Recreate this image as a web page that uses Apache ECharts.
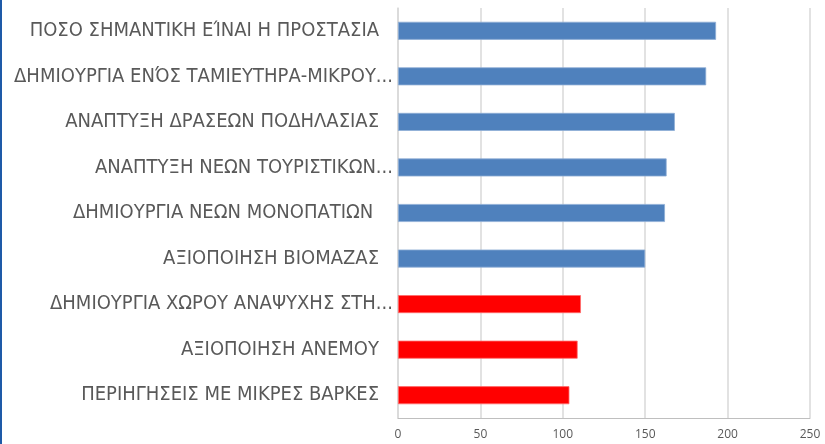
<!DOCTYPE html>
<html>
<head>
<meta charset="utf-8">
<script src="https://cdn.jsdelivr.net/npm/echarts@6/dist/echarts.min.js"></script>
<style>
  html, body { margin: 0; padding: 0; background: #ffffff; }
  #chart { width: 825px; height: 444px; }
</style>
</head>
<body>
<div id="chart"></div>
<script>
// Categories, top to bottom
const categories = [
  'ΠΟΣΟ ΣΗΜΑΝΤΙΚΗ ΕΊΝΑΙ Η ΠΡΟΣΤΑΣΙΑ',
  'ΔΗΜΙΟΥΡΓΙΑ ΕΝΌΣ ΤΑΜΙΕΥΤΗΡΑ-ΜΙΚΡΟΥ...',
  'ΑΝΑΠΤΥΞΗ ΔΡΑΣΕΩΝ ΠΟΔΗΛΑΣΙΑΣ',
  'ΑΝΑΠΤΥΞΗ ΝΕΩΝ ΤΟΥΡΙΣΤΙΚΩΝ...',
  'ΔΗΜΙΟΥΡΓΙΑ ΝΕΩΝ ΜΟΝΟΠΑΤΙΩΝ ',
  'ΑΞΙΟΠΟΙΗΣΗ ΒΙΟΜΑΖΑΣ',
  'ΔΗΜΙΟΥΡΓΙΑ ΧΩΡΟΥ ΑΝΑΨΥΧΗΣ ΣΤΗ...',
  'ΑΞΙΟΠΟΙΗΣΗ ΑΝΕΜΟΥ',
  'ΠΕΡΙΗΓΗΣΕΙΣ ΜΕ ΜΙΚΡΕΣ ΒΑΡΚΕΣ'
];
const values = [193, 187, 168, 163, 162, 150, 111, 109, 104];
// Lowest three options are highlighted
const highlighted = [false, false, false, false, false, false, true, true, true];
const xTicks = [0, 50, 100, 150, 200, 250];

const BLUE = '#4F81BD';
const RED = '#FF0000';
const LABEL_FONT = 'DejaVu Sans Condensed, Liberation Sans Narrow, sans-serif';

const chart = echarts.init(document.getElementById('chart'), null, { renderer: 'canvas' });

chart.setOption({
  animation: false,
  backgroundColor: '#ffffff',
  grid: { left: 398, right: 15, top: 8, bottom: 26, containLabel: false },
  graphic: [
    { type: 'rect', left: 0, top: 0, shape: { width: 2, height: 444 }, style: { fill: '#1E5AA8' } }
  ],
  xAxis: {
    type: 'value',
    min: xTicks[0],
    max: xTicks[xTicks.length - 1],
    interval: 50,
    axisLine: { show: true, lineStyle: { color: '#BFBFBF', width: 1 } },
    axisTick: { show: false },
    splitLine: { show: true, lineStyle: { color: '#D9D9D9', width: 1.5 } },
    axisLabel: { color: '#595959', fontSize: 12, fontFamily: 'Open Sans', margin: 11 }
  },
  yAxis: {
    type: 'category',
    data: categories,
    inverse: true,
    axisLine: { show: true, lineStyle: { color: '#D9D9D9', width: 1.5 } },
    axisTick: { show: false },
    axisLabel: {
      margin: 5,
      // truncated labels run their ellipsis closer to the axis
      formatter: (v) => v.endsWith('...') ? '{e|' + v + '}' : '{a|' + v + '}',
      rich: {
        a: { color: '#595959', fontSize: 20, fontFamily: LABEL_FONT, padding: [0, 14, 0, 0] },
        e: { color: '#595959', fontSize: 20, fontFamily: LABEL_FONT }
      }
    }
  },
  series: [{
    type: 'bar',
    barWidth: 18,
    data: values.map((v, i) => ({
      value: v,
      itemStyle: {
        color: highlighted[i] ? RED : BLUE,
        borderColor: highlighted[i] ? '#FF6B6B' : '#8EADD6',
        borderWidth: 0.8
      }
    }))
  }]
});
</script>
</body>
</html>
